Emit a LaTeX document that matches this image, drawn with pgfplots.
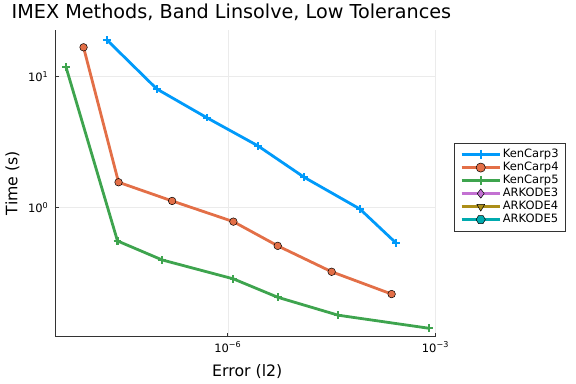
\documentclass[border=0pt]{standalone}
\usepackage{fontspec}
\setmainfont{DejaVu Sans}
\usepackage{pgfplots}
\pgfplotsset{compat=1.18}
\definecolor{c1}{RGB}{0,154,250}
\definecolor{c2}{RGB}{227,111,71}
\definecolor{c3}{RGB}{62,164,78}
\definecolor{c4}{RGB}{195,113,210}
\definecolor{c5}{RGB}{172,142,24}
\definecolor{c6}{RGB}{0,170,174}
\pgfdeclareplotmark{hexagon*}{%
  \pgfpathmoveto{\pgfqpointpolar{0}{\pgfplotmarksize}}%
  \pgfpathlineto{\pgfqpointpolar{60}{\pgfplotmarksize}}%
  \pgfpathlineto{\pgfqpointpolar{120}{\pgfplotmarksize}}%
  \pgfpathlineto{\pgfqpointpolar{180}{\pgfplotmarksize}}%
  \pgfpathlineto{\pgfqpointpolar{240}{\pgfplotmarksize}}%
  \pgfpathlineto{\pgfqpointpolar{300}{\pgfplotmarksize}}%
  \pgfpathclose
  \pgfusepathqfillstroke
}
\newcommand{\legfont}{\fontsize{11.5bp}{13bp}\selectfont}
\newcommand{\tl}[1]{10\textsuperscript{#1}}
\begin{document}
\begin{tikzpicture}
\path[use as bounding box] (0,0) rectangle (576bp,384bp);
\begin{axis}[
  at={(55.5bp,47.3bp)}, anchor=south west,
  scale only axis, width=380.5bp, height=306.7bp,
  xmode=log, ymode=log,
  xmin=3.24e-9, xmax=1.02e-3, ymin=0.1035, ymax=22.7,
  axis x line*=bottom, axis y line*=left,
  axis line style={-, black!80, line width=0.9bp},
  xtick={1e-6,1e-3}, xticklabels={\tl{−6},\tl{−3}},
  ytick={1,10}, yticklabels={\tl{0},\tl{1}},
  xminorticks=false, yminorticks=false,
  tick align=inside, major tick length=4bp,
  tick style={black!80, line width=0.8bp},
  grid=major, major grid style={black!8, line width=0.5bp},
  ticklabel style={font=\legfont},
  xticklabel style={anchor=north, inner sep=0pt, yshift=-5bp},
  yticklabel style={anchor=east, inner sep=0pt, xshift=-7bp},
  title={IMEX Methods, Band Linsolve, Low Tolerances},
  title style={at={(-0.1155,1.0382)}, anchor=base west, inner sep=0pt, yshift=-6pt, font=\fontsize{19.2bp}{23bp}\selectfont},
  xlabel={Error (l2)},
  xlabel style={at={(0.504,-0.1304)}, anchor=base, inner sep=0pt, font=\fontsize{15.75bp}{18bp}\selectfont},
  ylabel={Time (s)},
  ylabel style={at={(-0.1005,0.501)}, anchor=base, inner sep=0pt, rotate=0, font=\fontsize{15.75bp}{18bp}\selectfont},
  legend image code/.code={\draw[#1, mark repeat=2, mark phase=2] plot coordinates {(0bp,0bp) (19bp,0bp) (38bp,0bp)};},
  legend image post style={mark size=4.6bp, line width=2.8bp},
  legend style={at={(1.0485,0.6326)}, anchor=north west, draw=black!80, line width=0.8bp,
    font=\legfont, inner xsep=5.5bp, inner ysep=5bp, row sep=0pt,
    nodes={inner xsep=1.7bp, inner ysep=1bp, text height=8.5bp, text depth=2.5bp}},
  legend cell align=left,
  every axis plot/.append style={line width=2.8bp, line join=round},
]
\addplot[c1, mark=+, mark size=3.8bp, mark options={line width=2.2bp, solid}] coordinates {
(1.795e-8,19.05) (9.44e-8,8.05) (4.98e-7,4.86) (2.71e-6,2.97) (1.27e-5,1.706) (8.11e-5,0.977) (2.69e-4,0.538)};
\addlegendentry{KenCarp3}
\addplot[c2, mark=*, mark size=3.8bp, mark options={fill=c2, draw=black, line width=0.5bp, solid}] coordinates {
(8.24e-9,16.75) (2.64e-8,1.563) (1.57e-7,1.125) (1.205e-6,0.782) (5.27e-6,0.511) (3.17e-5,0.324) (2.33e-4,0.219)};
\addlegendentry{KenCarp4}
\addplot[c3, mark=+, mark size=3.8bp, mark options={line width=2.2bp, solid}] coordinates {
(4.59e-9,11.86) (2.55e-8,0.557) (1.127e-7,0.399) (1.205e-6,0.286) (5.27e-6,0.207) (3.94e-5,0.151) (8.11e-4,0.120)};
\addlegendentry{KenCarp5}
\addlegendimage{c4, mark=diamond*, mark options={fill=c4, draw=black, line width=0.5bp, solid}}
\addlegendentry{ARKODE3}
\addlegendimage{c5, mark=triangle*, mark options={fill=c5, draw=black, line width=0.5bp, solid, rotate=180}}
\addlegendentry{ARKODE4}
\addlegendimage{c6, mark=hexagon*, mark options={fill=c6, draw=black, line width=0.5bp, solid}}
\addlegendentry{ARKODE5}
\end{axis}
\end{tikzpicture}
\end{document}
